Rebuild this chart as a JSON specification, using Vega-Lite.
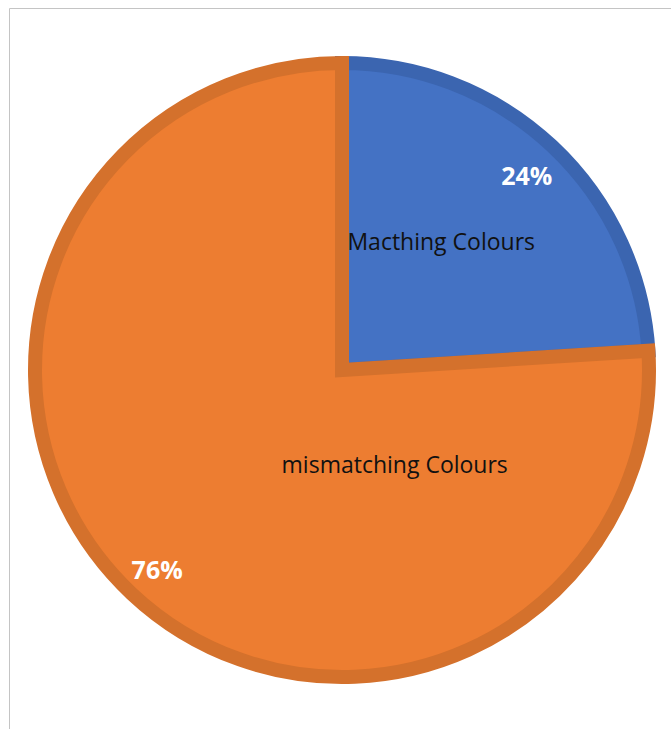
{
  "$schema": "https://vega.github.io/schema/vega-lite/v6.json",
  "width": 662,
  "height": 721,
  "autosize": {"type": "none"},
  "padding": {"left": 9, "top": 8, "right": 0, "bottom": 0},
  "background": "white",
  "view": {"stroke": "#c4c4c4", "strokeWidth": 1},
  "data": {
    "values": [
      {"category": "Macthing Colours", "value": 24},
      {"category": "mismatching Colours", "value": 76}
    ]
  },
  "transform": [
    {"stack": "value", "groupby": [], "sort": [{"field": "category", "order": "ascending"}], "as": ["v0", "v1"]},
    {"calculate": "(datum.v0 + datum.v1) / 2", "as": "mid"},
    {"calculate": "format(datum.value / 100, '.0%')", "as": "pct"}
  ],
  "layer": [
    {
      "mark": {"type": "arc", "outerRadius": 307, "strokeWidth": 14, "xOffset": 2, "yOffset": 1.5},
      "encoding": {
        "theta": {"field": "v0", "type": "quantitative", "scale": {"domain": [0, 100]}},
        "theta2": {"field": "v1"},
        "color": {"field": "category", "type": "nominal", "scale": {"domain": ["Macthing Colours", "mismatching Colours"], "range": ["#4472C4", "#ED7D31"]}, "legend": null},
        "stroke": {"field": "category", "type": "nominal", "scale": {"domain": ["Macthing Colours", "mismatching Colours"], "range": ["#3B65B0", "#D4712C"]}, "legend": null},
        "order": {"field": "v0", "type": "quantitative"}
      }
    },
    {
      "mark": {"type": "text", "radius": 270, "dx": 2, "dy": 5.5, "font": "Open Sans", "fontSize": 25, "fontWeight": "bold", "fill": "white", "align": "center", "baseline": "middle"},
      "encoding": {
        "theta": {"field": "mid", "type": "quantitative", "scale": {"domain": [0, 100]}},
        "text": {"field": "pct"}
      }
    },
    {
      "transform": [{"filter": "datum.category === 'Macthing Colours'"}],
      "mark": {"type": "text", "radius": 161, "dx": -9, "dy": -8.5, "font": "Open Sans", "fontSize": 23, "fill": "#111111", "align": "center", "baseline": "middle"},
      "encoding": {
        "theta": {"field": "mid", "type": "quantitative", "scale": {"domain": [0, 100]}},
        "text": {"field": "category"}
      }
    },
    {
      "transform": [{"filter": "datum.category === 'mismatching Colours'"}],
      "mark": {"type": "text", "radius": 110, "dx": 130, "dy": 17, "font": "Open Sans", "fontSize": 23, "fill": "#111111", "align": "center", "baseline": "middle"},
      "encoding": {
        "theta": {"field": "mid", "type": "quantitative", "scale": {"domain": [0, 100]}},
        "text": {"field": "category"}
      }
    }
  ]
}
